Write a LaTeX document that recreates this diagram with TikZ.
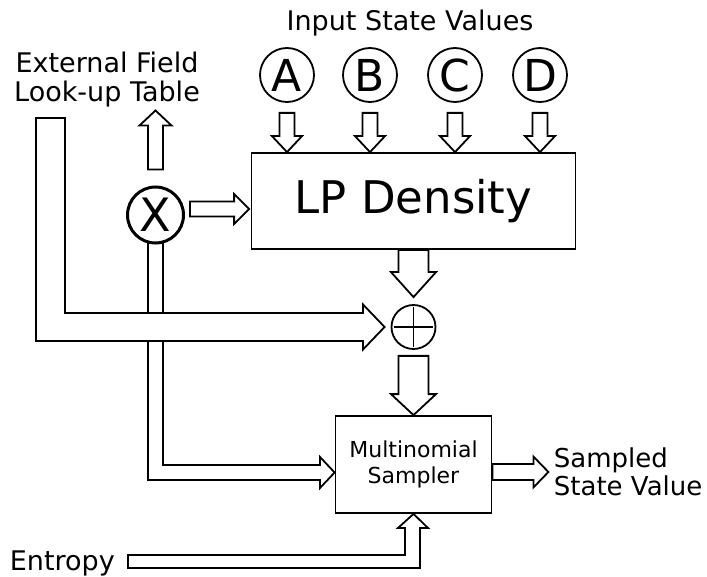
\documentclass[tikz,border=0pt]{standalone}
\usepackage{fontspec}
\setmainfont{DejaVu Sans}
\usetikzlibrary{calc}
\tikzset{
  fat/.style args={#1/#2/#3}{to path={
    let \p1=(\tikztostart), \p2=(\tikztotarget),
        \n1={atan2(\y2-\y1,\x2-\x1)}, \n2={veclen(\x2-\x1,\y2-\y1)-#3}
    in ($(\p1)+(\n1+90:#1)$) -- ($(\p1)+(\n1:\n2)+(\n1+90:#1)$)
    -- ($(\p1)+(\n1:\n2)+(\n1+90:#2)$) -- (\p2)
    -- ($(\p1)+(\n1:\n2)+(\n1-90:#2)$) -- ($(\p1)+(\n1:\n2)+(\n1-90:#1)$)
    -- ($(\p1)+(\n1-90:#1)$) -- cycle}},
  state/.style={draw,circle,minimum size=54pt,inner sep=0pt,font=\fontsize{44}{44}\selectfont},
  block/.style={draw,inner sep=0pt},
  lbl/.style={inner sep=0pt,align=center,font=\fontsize{27}{29}\selectfont},
}
\begin{document}
\begin{tikzpicture}[x=1pt,y=-1pt,line width=1.8pt]
  \useasboundingbox (0,0) rectangle (707,577);
  \node[lbl] (ext) at (107,80) {External Field\\Look-up Table};
  \node[lbl] (inp) at (410,23) {Input State Values};
  \node[block,minimum width=324pt,minimum height=96pt,font=\fontsize{45}{45}\selectfont] (lp) at (413.5,201) {LP Density};
  \foreach \s/\x in {A/287,B/370,C/455,D/540} {
    \node[state] (\s) at (\x,75) {\s};
    \draw[fat=7.5pt/15pt/16pt] ($(\s.south)+(0,10)$) to (\s.south |- lp.north);
  }
  \node[draw,circle,line width=3pt,minimum size=56pt,inner sep=0pt,font=\fontsize{46}{46}\selectfont] (x) at (155.5,215) {X};
  \node[draw,circle,minimum size=44pt,inner sep=0pt] (plus) at (413.5,327) {};
  \draw[shorten >=3pt,shorten <=3pt] (plus.north) -- (plus.south);
  \draw[shorten >=3pt,shorten <=3pt] (plus.west) -- (plus.east);
  \node[block,minimum width=156pt,minimum height=97pt,align=center,font=\fontsize{22}{26}\selectfont] (samp) at (413.5,464.5) {Multinomial\\Sampler};
  \node[lbl,align=left,anchor=west,font=\fontsize{26}{28}\selectfont] (out) at (553,472) {Sampled\\State Value};
  \node[lbl,anchor=base west] (ent) at (9,570) {Entropy};
  \draw[fat=7.5pt/15pt/15pt] ($(x.east)+(5,-6)$) to ($(lp.west)+(-1.5,8)$);
  \draw[fat=7.5pt/16pt/15pt] ($(x.north)+(0,-16)$) to ($(x.north)+(0,-75)$);
  \draw[fat=15pt/22.5pt/25pt] (lp.south) to ($(plus.north)+(0,-7)$);
  \draw[fat=15pt/22.5pt/21pt] ($(plus.south)+(0,6)$) to (samp.north);
  \draw[fat=8pt/15.5pt/15pt] ($(samp.east)+(0,7.5)$) to ($(samp.east)+(56,7.5)$);
  \draw (148,243) -- (163,243) -- (163,465) -- (320,465) -- (320,457) -- ($(samp.west)+(0,8)$)
    -- (320,488) -- (320,480) -- (148,480) -- cycle;
  \draw[fill=white] (36,118) -- (65,118) -- (65,313) -- (363,313) -- (363,304.5) -- ($(plus.west)+(-6,0)$)
    -- (363,349.5) -- (363,341) -- (36,341) -- cycle;
  \draw (128,555) -- (405,555) -- (405,528) -- (398,528) -- (samp.south) -- (428,528)
    -- (420,528) -- (420,568) -- (128,568) -- cycle;
\end{tikzpicture}
\end{document}
